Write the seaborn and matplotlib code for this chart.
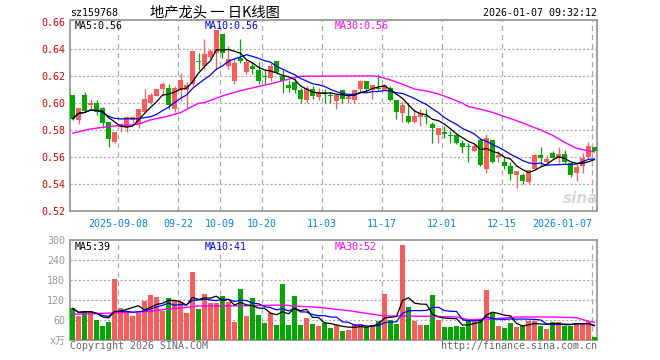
import numpy as np
import pandas as pd
import matplotlib
matplotlib.use("Agg")
import matplotlib.pyplot as plt
import seaborn as sns

# ---------------- data ----------------
opens = [0.606, 0.587, 0.606, 0.598, 0.600, 0.596, 0.586, 0.571, 0.582, 0.582,
         0.587, 0.584, 0.593, 0.600, 0.605, 0.610, 0.611, 0.595, 0.609, 0.609,
         0.614, 0.631, 0.627, 0.634, 0.637, 0.651, 0.627, 0.616, 0.633, 0.623,
         0.627, 0.624, 0.620, 0.618, 0.631, 0.620, 0.613, 0.615, 0.609, 0.602,
         0.610, 0.604, 0.608, 0.606, 0.601, 0.609, 0.603, 0.602, 0.610, 0.616,
         0.609, 0.611, 0.609, 0.611, 0.602, 0.592, 0.590, 0.586, 0.589, 0.590,
         0.584, 0.576, 0.578, 0.576, 0.576, 0.570, 0.568, 0.564, 0.572, 0.551,
         0.572, 0.560, 0.556, 0.553, 0.546, 0.546, 0.541, 0.551, 0.561, 0.556,
         0.563, 0.559, 0.562, 0.555, 0.548, 0.553, 0.560, 0.567]
highs = [0.606, 0.596, 0.608, 0.603, 0.602, 0.597, 0.586, 0.578, 0.585, 0.590,
         0.590, 0.595, 0.610, 0.607, 0.610, 0.615, 0.614, 0.612, 0.622, 0.615,
         0.638, 0.637, 0.647, 0.640, 0.654, 0.651, 0.642, 0.633, 0.647, 0.632,
         0.630, 0.630, 0.624, 0.629, 0.631, 0.624, 0.617, 0.618, 0.611, 0.612,
         0.612, 0.611, 0.610, 0.608, 0.606, 0.609, 0.606, 0.609, 0.617, 0.616,
         0.613, 0.621, 0.614, 0.612, 0.602, 0.601, 0.600, 0.595, 0.595, 0.595,
         0.586, 0.581, 0.583, 0.579, 0.577, 0.572, 0.570, 0.569, 0.574, 0.577,
         0.572, 0.564, 0.560, 0.556, 0.549, 0.548, 0.550, 0.562, 0.567, 0.561,
         0.564, 0.567, 0.565, 0.555, 0.556, 0.563, 0.571, 0.567]
lows = [0.587, 0.584, 0.593, 0.595, 0.591, 0.581, 0.567, 0.570, 0.578, 0.578,
        0.585, 0.581, 0.593, 0.599, 0.605, 0.605, 0.595, 0.593, 0.601, 0.596,
        0.612, 0.624, 0.625, 0.632, 0.624, 0.633, 0.625, 0.614, 0.629, 0.621,
        0.621, 0.614, 0.614, 0.616, 0.621, 0.607, 0.608, 0.607, 0.600, 0.600,
        0.603, 0.602, 0.600, 0.600, 0.595, 0.600, 0.600, 0.600, 0.607, 0.608,
        0.603, 0.609, 0.609, 0.601, 0.588, 0.586, 0.585, 0.585, 0.583, 0.584,
        0.570, 0.570, 0.574, 0.570, 0.569, 0.563, 0.556, 0.564, 0.553, 0.548,
        0.555, 0.556, 0.551, 0.543, 0.537, 0.540, 0.540, 0.551, 0.553, 0.555,
        0.559, 0.555, 0.555, 0.545, 0.542, 0.548, 0.558, 0.564]
closes = [0.588, 0.596, 0.594, 0.600, 0.593, 0.585, 0.573, 0.578, 0.584, 0.589,
          0.589, 0.595, 0.603, 0.606, 0.610, 0.614, 0.598, 0.611, 0.617, 0.613,
          0.638, 0.630, 0.636, 0.638, 0.654, 0.637, 0.632, 0.629, 0.631, 0.630,
          0.625, 0.616, 0.619, 0.627, 0.623, 0.616, 0.611, 0.609, 0.603, 0.611,
          0.605, 0.608, 0.607, 0.605, 0.606, 0.603, 0.604, 0.609, 0.616, 0.610,
          0.613, 0.610, 0.613, 0.602, 0.593, 0.598, 0.586, 0.590, 0.592, 0.589,
          0.581, 0.581, 0.577, 0.575, 0.570, 0.567, 0.567, 0.568, 0.554, 0.574,
          0.556, 0.561, 0.553, 0.547, 0.549, 0.542, 0.550, 0.561, 0.559, 0.558,
          0.559, 0.562, 0.556, 0.546, 0.552, 0.559, 0.568, 0.564]
volumes = [95, 71, 88, 86, 61, 41, 55, 182, 95, 85,
           71, 81, 116, 136, 130, 87, 125, 116, 115, 80,
           203, 94, 139, 112, 110, 133, 115, 55, 152, 71,
           125, 76, 52, 80, 46, 169, 46, 133, 46, 67,
           49, 43, 52, 37, 45, 28, 31, 48, 49, 38,
           46, 58, 139, 60, 49, 286, 100, 58, 46, 46,
           136, 61, 40, 40, 43, 40, 63, 63, 60, 151,
           81, 43, 37, 50, 38, 43, 58, 58, 43, 34,
           55, 55, 43, 43, 51, 51, 58, 8]

# 30-day average lines (index, value)
ma30_idx = [0, 3, 6, 8, 10, 11, 13, 16, 18, 21, 22, 25, 28, 31, 34, 37, 38,
            50, 51, 53, 55, 57, 59, 61, 63, 65, 66, 68, 70, 72, 74, 76, 78, 80,
            82, 84, 86, 87]
ma30_val = [0.5773, 0.5805, 0.5822, 0.5832, 0.5835, 0.5840, 0.5872, 0.5900,
            0.5926, 0.5995, 0.6000, 0.6050, 0.6089, 0.6119, 0.6150, 0.6185,
            0.6195, 0.6198, 0.6193, 0.6168, 0.6136, 0.6101, 0.6086, 0.6064,
            0.6032, 0.5995, 0.5970, 0.5951, 0.5928, 0.5896, 0.5867, 0.5832,
            0.5798, 0.5758, 0.5706, 0.5662, 0.5642, 0.5635]
vma30_idx = [0, 5, 10, 13, 16, 19, 21, 30, 35, 38, 41, 44, 46, 49, 52, 55,
             60, 64, 66, 70, 74, 80, 84, 86, 87]
vma30_val = [77, 80, 83, 86, 93, 98, 102, 103, 105, 101, 98, 92, 88, 80, 72,
             72, 71, 69, 61, 63, 69, 69, 67, 56, 53]

date_idx = [8, 18, 25, 32, 42, 52, 62, 72, 87]
date_labels = ["2025-09-08", "09-22", "10-09", "10-20", "11-03", "11-17",
               "12-01", "12-15", "2026-01-07"]
price_ticks = [0.52, 0.54, 0.56, 0.58, 0.60, 0.62, 0.64, 0.66]
vol_ticks = [0, 60, 120, 180, 240, 300]
vol_tick_labels = ["x万", "60", "120", "180", "240", "300"]

# ---------------- style ----------------
sns.set_style("white")
plt.rcParams['font.family'] = ['DejaVu Sans Mono', 'Noto Sans CJK SC']
plt.rcParams['lines.scale_dashes'] = False

RED = "#ff5a5a"
GREEN = "#00a800"
GRID = "#aaaaaa"
BORDER = "#999999"

W, H = 660, 360
fig = plt.figure(figsize=(W / 100, H / 100), dpi=100)
fig.patch.set_facecolor("white")


def rect(l, t, r, b):
    return [l / W, 1 - b / H, (r - l) / W, (b - t) / H]


axp = fig.add_axes(rect(70, 20, 597, 211))
axv = fig.add_axes(rect(70, 240, 597, 340))

n = len(closes)
x = np.arange(n)
o = np.array(opens); c = np.array(closes)
hi = np.array(highs); lo = np.array(lows)
up = c >= o
cols = np.where(up, RED, GREEN)
XL = (-2.5 / 6, 87 + 2.5 / 6)

df = pd.DataFrame({"x": x, "close": c, "vol": volumes})
df["ma5"] = df["close"].rolling(5, min_periods=1).mean()
df["ma10"] = df["close"].rolling(10, min_periods=1).mean()
df["vma5"] = df["vol"].rolling(5, min_periods=1).mean()
df["vma10"] = df["vol"].rolling(10, min_periods=1).mean()
ma30 = pd.DataFrame({"x": ma30_idx, "v": ma30_val})
vma30 = pd.DataFrame({"x": vma30_idx, "v": vma30_val})

for ax in (axp, axv):
    ax.set_xlim(*XL)
    for s in ax.spines.values():
        s.set_color(BORDER)
        s.set_linewidth(1.3)
    for di in date_idx:
        ax.axvline(di - 0.40, color=GRID, lw=0.9, ls=(0, (3.6, 2.9)), zorder=0)

# price grid
for p in price_ticks[1:-1]:
    axp.axhline(p, color=GRID, lw=0.9, ls=(0, (1.5, 1.5)), zorder=0)
axp.set_ylim(0.5197, 0.6612)

# candles
axp.vlines(x, lo, hi, colors=cols, lw=0.9, zorder=2)
body_h = np.maximum(np.abs(c - o), 0.0007)
body_b = np.minimum(o, c)
body_b = np.where(np.abs(c - o) < 0.0007, body_b - 0.00035, body_b)
axp.bar(x, body_h, bottom=body_b, width=0.83, color=cols, linewidth=0, zorder=3)

sns.lineplot(data=ma30, x="x", y="v", ax=axp, color="#ff00ff", lw=1.0, zorder=4)
sns.lineplot(data=df, x="x", y="ma10", ax=axp, color="#0000ff", lw=0.9, zorder=5)
sns.lineplot(data=df, x="x", y="ma5", ax=axp, color="#000000", lw=0.9, zorder=6)

axp.set_yticks(price_ticks)
axp.set_yticklabels([f"{p:.2f}" for p in price_ticks])
axp.set_xticks([d - 0.40 for d in date_idx])
axp.set_xticklabels(date_labels)
axp.tick_params(axis="y", length=0, pad=3.5, labelsize=7.2, labelcolor="#e00000")
axp.tick_params(axis="x", length=0, pad=5.5, labelsize=7.2, labelcolor="#0b84d8")
xtl = axp.get_xticklabels()
xtl[-1].set_horizontalalignment("right")
axp.set_xlabel(""); axp.set_ylabel("")

# volume panel
axv.set_ylim(0, 300)
for v in vol_ticks[1:-1]:
    axv.axhline(v, color=GRID, lw=0.9, ls=(0, (1.5, 1.5)), zorder=0)
axv.bar(x, volumes, width=0.83, color=cols, linewidth=0, zorder=3)
sns.lineplot(data=vma30, x="x", y="v", ax=axv, color="#ff00ff", lw=1.0, zorder=4)
sns.lineplot(data=df, x="x", y="vma10", ax=axv, color="#0000ff", lw=0.9, zorder=5)
sns.lineplot(data=df, x="x", y="vma5", ax=axv, color="#000000", lw=0.9, zorder=6)
axv.set_yticks(vol_ticks)
axv.set_yticklabels(vol_tick_labels)
axv.set_xticks([])
axv.tick_params(axis="y", length=0, pad=3.5, labelsize=7.2, labelcolor="#999999")
axv.set_xlabel(""); axv.set_ylabel("")


def ftext(px, py, s, **kw):
    fig.text(px / W, 1 - py / H, s, **kw)


mono = dict(fontsize=7.2, va="center")
ftext(70, 13.5, "sz159768", ha="left", color="black", **mono)
ftext(597, 13.5, "2026-01-07 09:32:12", ha="right", color="black", **mono)
ftext(214.5, 12.5, "地产龙头 一 日K线图", ha="center", va="center",
      fontsize=10.3, color="black", family=["Noto Sans CJK SC", "DejaVu Sans"])

ftext(74.5, 26, "MA5:0.56", ha="left", color="black", **mono)
ftext(204.5, 26, "MA10:0.56", ha="left", color="#0000ff", **mono)
ftext(334.5, 26, "MA30:0.56", ha="left", color="#ff00ff", **mono)

ftext(74.5, 246.5, "MA5:39", ha="left", color="black", **mono)
ftext(204.5, 246.5, "MA10:41", ha="left", color="#0000ff", **mono)
ftext(334.5, 246.5, "MA30:52", ha="left", color="#ff00ff", **mono)

ftext(70, 346, "Copyright 2026 SINA.COM", ha="left", color="#666666", **mono)
ftext(597, 346, "http://finance.sina.com.cn", ha="right", color="#666666", **mono)

# faint watermark
ftext(581, 198, "sina", ha="center", va="center", fontsize=11, color="#d8d8d8",
      fontstyle="italic", fontweight="bold", family="DejaVu Sans")

fig.savefig("out.png", dpi=100, facecolor="white")
